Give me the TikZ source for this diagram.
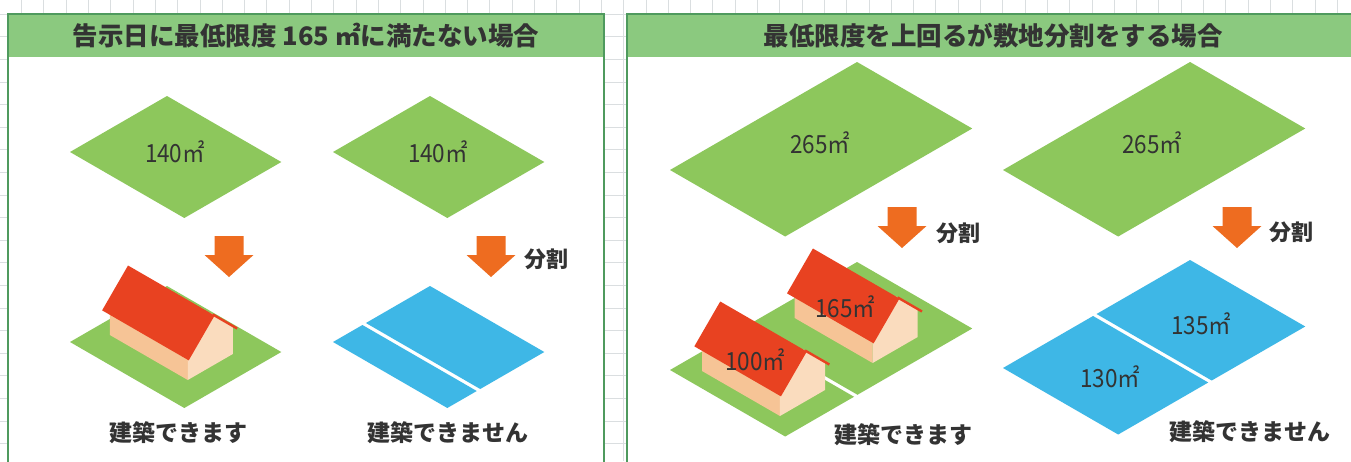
\documentclass[tikz,border=0pt]{standalone}
\usepackage{fontspec}
\newfontfamily\jp{Noto Sans CJK JP}
\newfontfamily\jpnarrow{Noto Sans CJK JP}[FakeStretch=0.9]

\definecolor{ink}{HTML}{333333}
\definecolor{lawn}{HTML}{8DC75C}
\definecolor{sky}{HTML}{3EB7E6}
\definecolor{headgreen}{HTML}{8BC97F}
\definecolor{frame}{HTML}{4F9A5E}
\definecolor{arrowfill}{HTML}{EE6C20}
\definecolor{roofred}{HTML}{E84221}
\definecolor{wallA}{HTML}{F6C496}
\definecolor{wallB}{HTML}{FADCBE}
\definecolor{gridgray}{HTML}{DADEE0}

\begin{document}
\begin{tikzpicture}[x=1pt,y=-1pt,
  every node/.style={inner sep=0pt, text=ink},
  gridline/.style={draw=gridgray, line width=0.8pt},
  panel/.style={draw=frame, line width=1.6pt},
  headbar/.style={fill=headgreen},
  heading/.style={font=\jp\bfseries\fontsize{25.5}{30}\selectfont},
  area/.style={font=\jpnarrow\fontsize{25}{29}\selectfont},
  verdict/.style={font=\jp\bfseries\fontsize{23}{27}\selectfont},
  splitlabel/.style={font=\jp\bfseries\fontsize{22}{26}\selectfont},
  % isometric ground axes: x runs up-right, y runs down-right, z is up
  iso/.style={x={(0.866pt,0.5pt)}, y={(0.866pt,-0.5pt)}, z={(0pt,1pt)}},
  downarrow/.pic={
    \fill[arrowfill] (0,0) -- (-24.5,-22) -- (-14.5,-22) -- (-14.5,-41)
      -- (14.5,-41) -- (14.5,-22) -- (24.5,-22) -- cycle;
  },
  % gabled house, origin at the front bottom-left corner (iso axes)
  house/.pic={
    \fill[wallA] (0,0,0) -- (0,90,0) -- (0,90,28) -- (0,0,28) -- cycle;
    \fill[wallB] (0,90,0) -- (52,90,0) -- (52,90,28) -- (26,90,54)
      -- (0,90,28) -- cycle;
    \draw[roofred, line width=2.4pt] (26,93,54) -- (54,93,26);
    \fill[roofred] (26,-5,54) -- (-3.9,-5,24.1) -- (-3.9,95,24.1)
      -- (26,95,54) -- cycle;
  }]

\useasboundingbox (0,0) rectangle (1351,461);
\clip (0,0) rectangle (1351,461);

% sheet grid
\foreach \i in {0,...,60}
  \draw[gridline] ({21.5+22.3*\i},0) -- ({21.5+22.3*\i},461);
\foreach \j in {0,...,20}
  \draw[gridline] (0,{14.1+22.6*\j}) -- (1351,{14.1+22.6*\j});

% panels
\fill[white] (8,14) rectangle (604,475);
\fill[white] (627,14) rectangle (1370,475);
\fill[headbar] (8,14) rectangle (604,57);
\fill[headbar] (627,14) rectangle (1370,57);
\draw[panel] (8,14) rectangle (604,475);
\draw[panel] (627,14) rectangle (1370,475);

\node[heading] (headL) at (306,36) {告示日に最低限度 165 ㎡に満たない場合};
\node[heading] (headR) at (993,36) {最低限度を上回るが敷地分割をする場合};

% ---- left panel: lot below the minimum ----
\begin{scope}[shift={(70,152)}, iso]
  \fill[lawn] (0,0) -- (112,0) -- (112,132) -- (0,132) -- cycle;
\end{scope}
\begin{scope}[shift={(333,152)}, iso]
  \fill[lawn] (0,0) -- (112,0) -- (112,132) -- (0,132) -- cycle;
\end{scope}
\node[area] (a140a) at (175,152) {140㎡};
\node[area] (a140b) at (438,152) {140㎡};

\pic at (229,277) {downarrow};
\pic at (491,277) {downarrow};
\node[splitlabel] (splitL) at (546,259) {分割};

\begin{scope}[shift={(70,342)}, iso]
  \fill[lawn] (0,0) -- (112,0) -- (112,132) -- (0,132) -- cycle;
  \pic at (30,16) {house};
\end{scope}
\begin{scope}[shift={(333,342)}, iso]
  \fill[sky] (0,0) -- (34,0) -- (34,132) -- (0,132) -- cycle;
  \fill[sky] (38,0) -- (112,0) -- (112,132) -- (38,132) -- cycle;
\end{scope}

\node[verdict] (okL) at (178,433) {建築できます};
\node[verdict] (ngL) at (448,433) {建築できません};

% ---- right panel: lot above the minimum, then divided ----
\begin{scope}[shift={(670,170)}, iso]
  \fill[lawn] (0,0) -- (216,0) -- (216,133) -- (0,133) -- cycle;
\end{scope}
\begin{scope}[shift={(1003,170)}, iso]
  \fill[lawn] (0,0) -- (216,0) -- (216,133) -- (0,133) -- cycle;
\end{scope}
\node[area] (a265a) at (820,143) {265㎡};
\node[area] (a265b) at (1152,143) {265㎡};

\pic at (902,248) {downarrow};
\pic at (1237,248) {downarrow};
\node[splitlabel] (splitR1) at (958,233) {分割};
\node[splitlabel] (splitR2) at (1291,232) {分割};

\begin{scope}[shift={(670,370)}, iso]
  \fill[lawn] (0,0) -- (79.5,0) -- (79.5,133) -- (0,133) -- cycle;
  \fill[lawn] (83.5,0) -- (216,0) -- (216,133) -- (83.5,133) -- cycle;
  \pic at (124,20) {house};
  \pic at (17.5,19.5) {house};
\end{scope}
\node[area] (a165) at (845,307) {165㎡};
\node[area] (a100) at (755,360) {100㎡};

\begin{scope}[shift={(1003,368)}, iso]
  \fill[sky] (0,0) -- (104,0) -- (104,133) -- (0,133) -- cycle;
  \fill[sky] (108,0) -- (216,0) -- (216,133) -- (108,133) -- cycle;
\end{scope}
\node[area] (a130) at (1110,377) {130㎡};
\node[area] (a135) at (1201,324) {135㎡};

\node[verdict] (okR) at (903,435) {建築できます};
\node[verdict] (ngR) at (1250,432) {建築できません};
\end{tikzpicture}
\end{document}
